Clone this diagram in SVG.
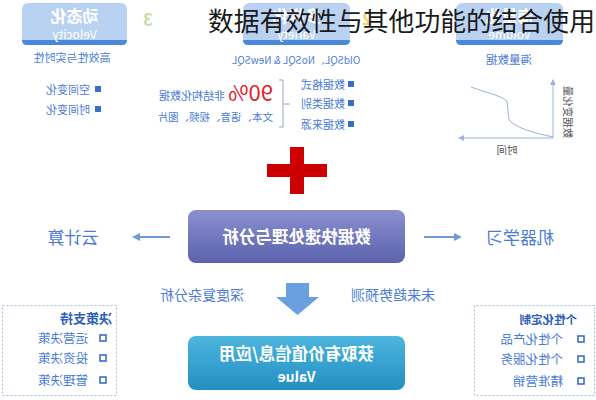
<svg xmlns="http://www.w3.org/2000/svg" width="596" height="400" viewBox="0 0 596 400">
<defs>
<style>
.t{font-family:"Noto Sans CJK SC","Liberation Sans",sans-serif;}
.blue{fill:#4a7bd6;}
.small{font-size:10px;}
.mid{font-size:11px;}
.item{font-size:12.5px;}
.bx{fill:#b9d2f2;}
.strip{fill:#4a88dc;}
.wt{fill:#ffffff;font-weight:bold;}
.sq{fill:#3a6fc8;}
.hsq{fill:none;stroke:#3a6fc8;stroke-width:1.6;}
.dash{fill:#ffffff;stroke:#a9bbdc;stroke-width:1;stroke-dasharray:2 2;}
.conn{stroke:#6f9ad8;stroke-width:2;fill:none;}
</style>
<linearGradient id="gp" x1="0" y1="0" x2="0" y2="1">
<stop offset="0" stop-color="#8a90cf"/>
<stop offset="1" stop-color="#5c62ad"/>
</linearGradient>
<linearGradient id="gt" x1="0" y1="0" x2="0" y2="1">
<stop offset="0" stop-color="#4cb6de"/>
<stop offset="1" stop-color="#238fc2"/>
</linearGradient>
<marker id="ah" markerWidth="8" markerHeight="8" refX="6" refY="4" orient="auto" markerUnits="userSpaceOnUse">
<path d="M0,0 L8,4 L0,8 Z" fill="#6f9ad8"/>
</marker>
<marker id="ah2" markerWidth="6" markerHeight="6" refX="5" refY="3" orient="auto" markerUnits="userSpaceOnUse">
<path d="M0,0 L6,3 L0,6 Z" fill="#9ab4dc"/>
</marker>
</defs>
<rect width="596" height="400" fill="#ffffff"/>
<g transform="matrix(-1 0 0 1 596 0)">
  <g id="volume">
    <rect class="bx" x="33" y="3" width="107" height="42" rx="6"/>
    <path class="strip" d="M33,40 H140 V40 Q140,45 135,45 H38 Q33,45 33,40 Z"/>
    <text class="t wt" x="86.5" y="22" font-size="16" text-anchor="middle">海量化</text>
    <text class="t" x="86.5" y="39" font-size="12" fill="#ffffff" text-anchor="middle">Volume</text>
    <text class="t blue" x="87" y="64" font-size="11.5" text-anchor="middle">海量数据</text>
  </g>
  <g id="variety">
    <text class="t" x="229" y="25" font-size="17" font-weight="bold" fill="#f2d36b" text-anchor="middle">2</text>
    <rect class="bx" x="246" y="3" width="107" height="42" rx="6"/>
    <path class="strip" d="M246,40 H353 Q353,45 348,45 H251 Q246,45 246,40 Z"/>
    <text class="t wt" x="299.5" y="22" font-size="16" text-anchor="middle">多样化</text>
    <text class="t" x="299.5" y="39" font-size="12" fill="#ffffff" text-anchor="middle">Variety</text>
    <text class="t blue small" x="300" y="64" text-anchor="middle">OldSQL、NoSQL &amp; NewSQL</text>
  </g>
  <g id="velocity">
    <text class="t" x="448" y="26" font-size="17" font-weight="bold" fill="#c9d9b2" text-anchor="middle">3</text>
    <rect class="bx" x="469" y="3" width="105" height="42" rx="6"/>
    <path class="strip" d="M469,40 H574 Q574,45 569,45 H474 Q469,45 469,40 Z"/>
    <text class="t wt" x="521.5" y="22" font-size="16" text-anchor="middle">动态化</text>
    <text class="t" x="521.5" y="39" font-size="12" fill="#ffffff" text-anchor="middle">Velocity</text>
    <text class="t blue" x="524" y="62" font-size="11" text-anchor="middle">高效性与实时性</text>
  </g>
  <g id="velocity-list">
    <rect class="sq" x="495" y="86" width="6" height="6"/>
    <text class="t blue mid" x="506" y="93.5">空间变化</text>
    <rect class="sq" x="495" y="106" width="6" height="6"/>
    <text class="t blue mid" x="506" y="113.5">时间变化</text>
  </g>
  <g id="variety-list">
    <rect class="sq" x="242" y="81" width="6" height="6"/>
    <text class="t blue mid" x="251" y="88.5">数据格式</text>
    <rect class="sq" x="242" y="100" width="6" height="6"/>
    <text class="t blue mid" x="251" y="107.5">数据类别</text>
    <rect class="sq" x="242" y="121" width="6" height="6"/>
    <text class="t blue mid" x="251" y="128.5">数据来源</text>
    <path d="M317,80 H313 V127 H317 M313,104 H306" fill="none" stroke="#9aa6bb" stroke-width="1"/>
    <text class="t" x="323" y="101" font-size="22" fill="#e0202a">90%</text>
    <text class="t blue mid" x="371" y="100">非结构化数据</text>
    <text class="t blue" x="323" y="121" font-size="10.5">文本、语音、视频、图片</text>
  </g>
  <g id="volume-chart">
    <line x1="43" y1="138" x2="43" y2="80" stroke="#9ab4dc" stroke-width="1" marker-end="url(#ah2)"/>
    <line x1="43" y1="138" x2="137" y2="138" stroke="#9ab4dc" stroke-width="1" marker-end="url(#ah2)"/>
    <path d="M125,87 C112,92 96,95 89,101 L87,120 C80,128 62,133 43,137" fill="none" stroke="#9ab4dc" stroke-width="1"/>
    <text class="t" x="89" y="154" font-size="10.5" fill="#555" text-anchor="middle">时间</text>
    <text class="t" font-size="10.5" fill="#555" text-anchor="middle" transform="translate(32,112) rotate(-90)">数据变化量</text>
  </g>
  <g id="plus">
    <rect x="292" y="147" width="14" height="47" fill="#cc0000"/>
    <rect x="269" y="164" width="60" height="13" fill="#cc0000"/>
  </g>
  <g id="process">
    <rect x="191" y="210" width="217" height="53" rx="8" fill="url(#gp)"/>
    <text class="t wt" x="299.5" y="243" font-size="16.5" text-anchor="middle">数据快速处理与分析</text>
  </g>
  <g id="cloud">
    <text class="t blue" x="523" y="244" font-size="17" text-anchor="middle">云计算</text>
  </g>
  <g id="ml">
    <text class="t blue" x="76" y="244" font-size="17" text-anchor="middle">机器学习</text>
  </g>
  <g id="connectors">
    <line class="conn" x1="426" y1="237" x2="462" y2="237" marker-end="url(#ah)"/>
    <line class="conn" x1="172" y1="237" x2="136" y2="237" marker-end="url(#ah)"/>
    <path d="M287,283 H310 V297 H320 L298.5,315 L277,297 H287 Z" fill="#6a9fe0"/>
  </g>
  <g id="labels">
    <text class="t blue" x="394" y="300" font-size="14" text-anchor="middle">深度复杂分析</text>
    <text class="t blue" x="203" y="300" font-size="14" text-anchor="middle">未来趋势预测</text>
  </g>
  <g id="value">
    <rect x="191" y="336" width="217" height="54" rx="8" fill="url(#gt)"/>
    <text class="t wt" x="299.5" y="360" font-size="16.5" text-anchor="middle">获取有价值信息/应用</text>
    <text class="t wt" x="299.5" y="382" font-size="14" text-anchor="middle">Value</text>
  </g>
  <g id="decision">
    <rect class="dash" x="479.5" y="305.5" width="114" height="90"/>
    <text class="t" x="484" y="323" font-size="13" font-weight="bold" fill="#2f5fb8">决策支持</text>
    <rect class="hsq" x="490" y="335" width="6" height="6"/>
    <text class="t blue item" x="508" y="342.5">运营决策</text>
    <rect class="hsq" x="490" y="355" width="6" height="6"/>
    <text class="t blue item" x="508" y="362.5">投资决策</text>
    <rect class="hsq" x="490" y="377" width="6" height="6"/>
    <text class="t blue item" x="508" y="384.5">管理决策</text>
  </g>
  <g id="custom">
    <rect class="dash" x="1.5" y="305.5" width="120" height="90"/>
    <text class="t" x="19" y="324" font-size="11.5" font-weight="bold" fill="#2f5fb8">个性化定制</text>
    <rect class="hsq" x="12" y="336" width="6" height="6"/>
    <text class="t blue item" x="33" y="343.5">个性化产品</text>
    <rect class="hsq" x="12" y="356" width="6" height="6"/>
    <text class="t blue item" x="33" y="363.5">个性化服务</text>
    <rect class="hsq" x="12" y="378" width="6" height="6"/>
    <text class="t blue item" x="33" y="385.5">精准营销</text>
  </g>
</g>
<g id="title">
  <text class="t" x="208" y="31" font-size="25.8" fill="#1a1a1a">数据有效性与其他功能的结合使用</text>
</g>
</svg>
